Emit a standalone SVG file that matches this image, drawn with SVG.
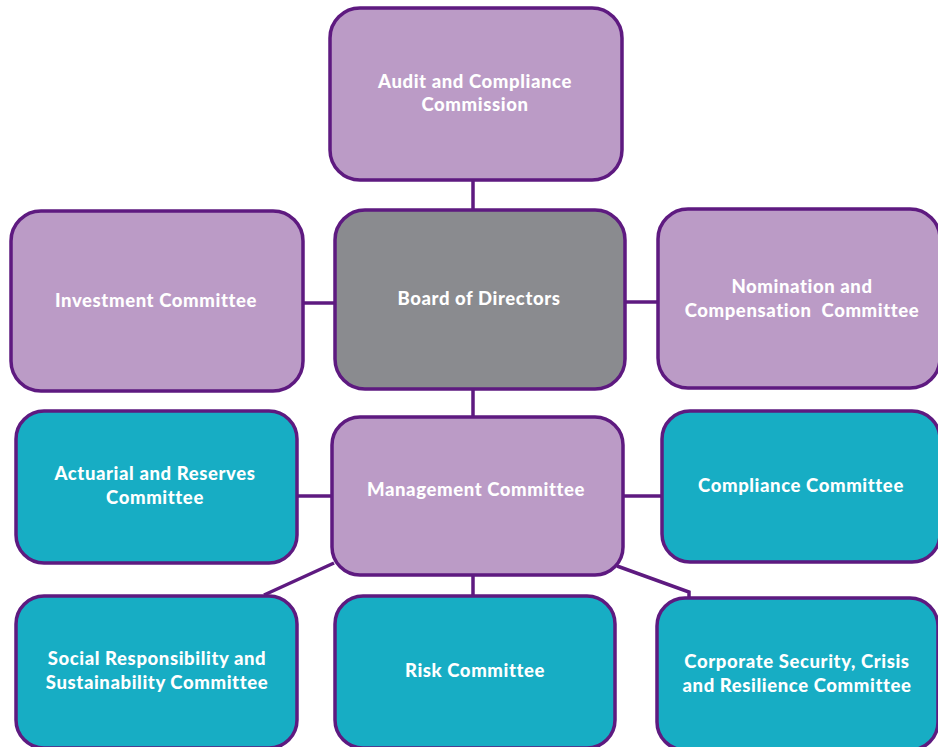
<svg xmlns="http://www.w3.org/2000/svg" width="938" height="747" viewBox="0 0 938 747">
<style>
.box{stroke:#5e1a80;stroke-width:3.5}
.p{fill:#bb9bc6}
.g{fill:#8a8b8f}
.t{fill:#17adc4}
.lbl{font-family:Lato,"Liberation Sans",sans-serif;font-weight:900;font-size:18.5px;letter-spacing:0.6px;fill:#ffffff;text-anchor:middle;white-space:pre}
.c{stroke:#5e1a80;stroke-width:3.5;fill:none}
</style>
<rect width="938" height="747" fill="#ffffff"/>
<g id="connectors">
<line class="c" x1="473" y1="180" x2="473" y2="210"/>
<line class="c" x1="302" y1="303" x2="335" y2="303"/>
<line class="c" x1="625" y1="302" x2="659" y2="302"/>
<line class="c" x1="473" y1="389" x2="473" y2="418"/>
<line class="c" x1="296" y1="496" x2="333" y2="496"/>
<line class="c" x1="622" y1="496" x2="663" y2="496"/>
<line class="c" x1="334" y1="563" x2="264" y2="595"/>
<line class="c" x1="473" y1="575" x2="473" y2="596"/>
<polyline class="c" points="617,566 689,592 689,598"/>
</g>
<g id="audit"><rect class="box p" x="330" y="8" width="292" height="172" rx="30"/>
<text class="lbl" x="475" y="88">Audit and Compliance</text><text class="lbl" x="475" y="111">Commission</text></g>
<g id="board"><rect class="box g" x="335" y="210" width="290" height="179" rx="30"/>
<text class="lbl" x="479" y="305">Board of Directors</text></g>
<g id="investment"><rect class="box p" x="11" y="211" width="292" height="180" rx="30"/>
<text class="lbl" x="156" y="307">Investment Committee</text></g>
<g id="nomination"><rect class="box p" x="658" y="209" width="282" height="179" rx="30"/>
<text class="lbl" x="802" y="293">Nomination and</text><text class="lbl" x="802" y="317" xml:space="preserve">Compensation  Committee</text></g>
<g id="management"><rect class="box p" x="332" y="417" width="291" height="158" rx="28"/>
<text class="lbl" x="476" y="496">Management Committee</text></g>
<g id="actuarial"><rect class="box t" x="16" y="411" width="281" height="152" rx="28"/>
<text class="lbl" x="155" y="480">Actuarial and Reserves</text><text class="lbl" x="155" y="504">Committee</text></g>
<g id="compliance"><rect class="box t" x="662" y="411" width="278" height="151" rx="28"/>
<text class="lbl" x="801" y="492">Compliance Committee</text></g>
<g id="social"><rect class="box t" x="16" y="596" width="281" height="152" rx="28"/>
<text class="lbl" x="157" y="665">Social Responsibility and</text><text class="lbl" x="157" y="689">Sustainability Committee</text></g>
<g id="risk"><rect class="box t" x="335" y="596" width="280" height="152" rx="28"/>
<text class="lbl" x="475" y="677">Risk Committee</text></g>
<g id="corporate"><rect class="box t" x="657" y="598" width="281" height="152" rx="28"/>
<text class="lbl" x="797" y="668">Corporate Security, Crisis</text><text class="lbl" x="797" y="692">and Resilience Committee</text></g>
</svg>
